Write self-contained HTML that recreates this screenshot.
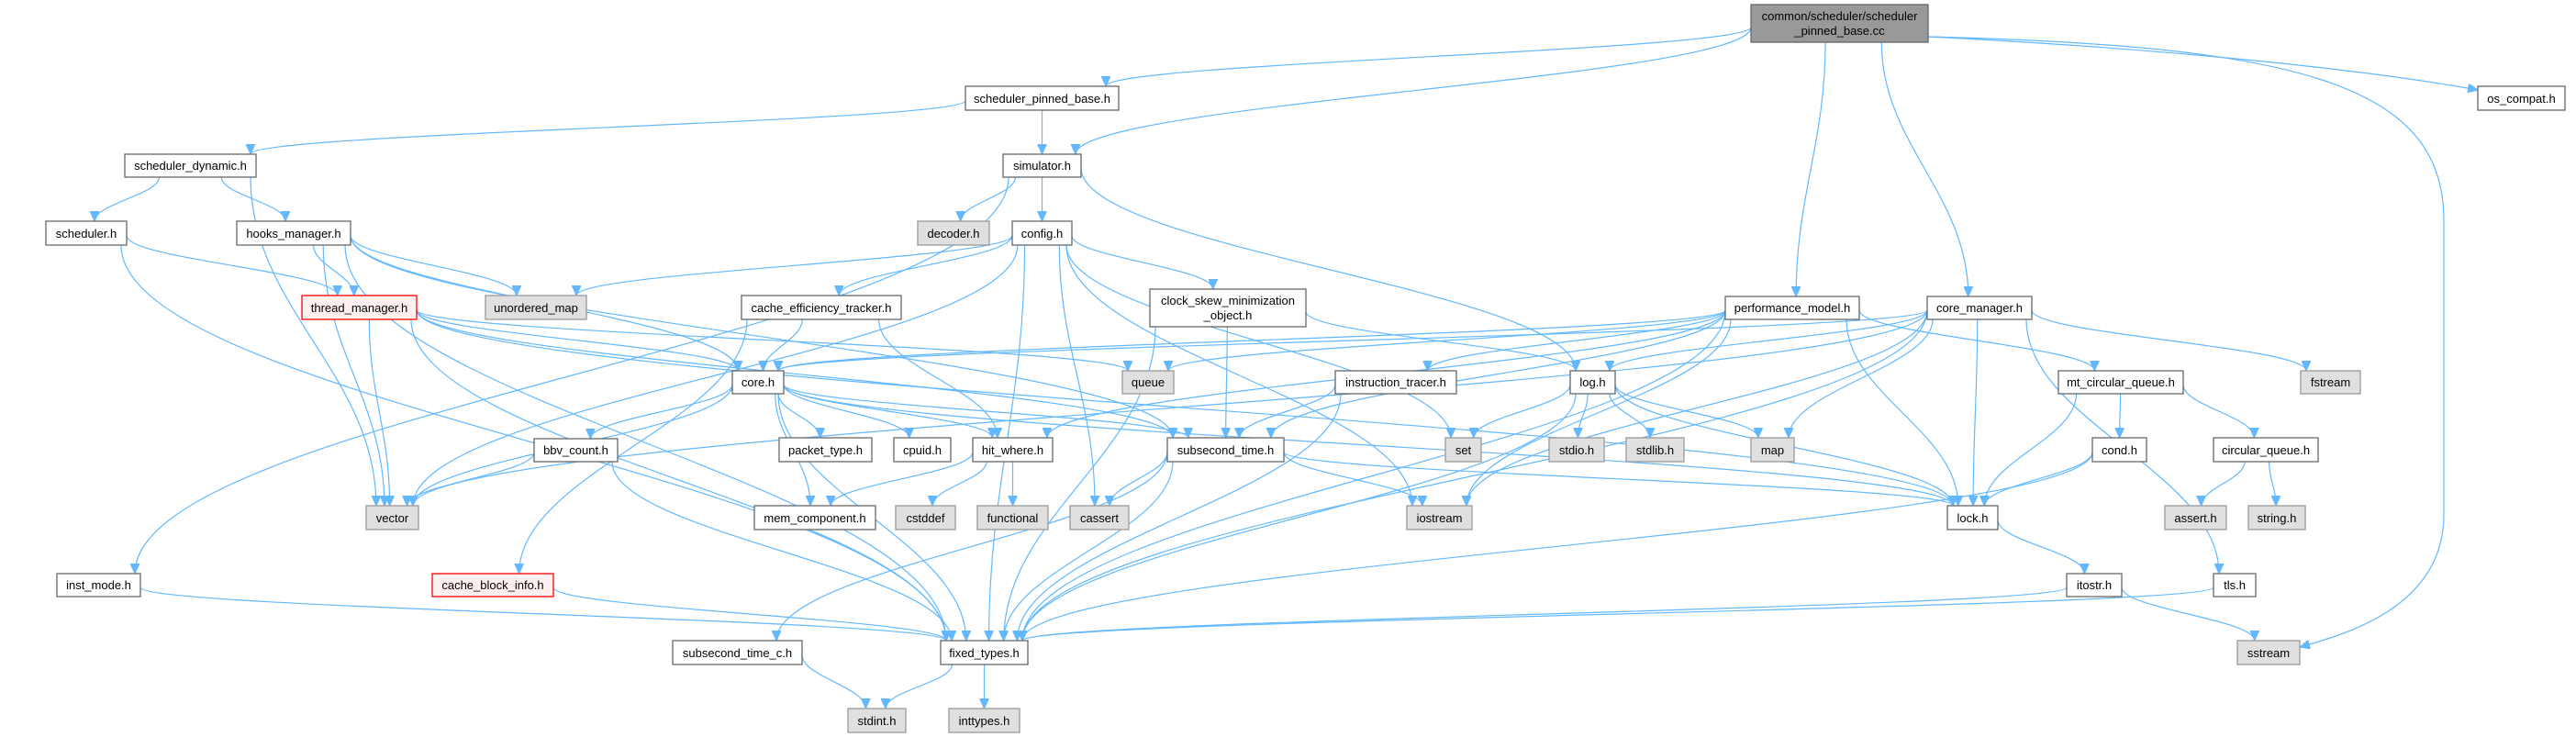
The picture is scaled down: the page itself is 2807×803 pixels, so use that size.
<!DOCTYPE html>
<html><head><meta charset="utf-8">
<style>
html,body{margin:0;padding:0;background:#fff;}
svg{display:block;}
text{font-family:"Liberation Sans",Arial,sans-serif;font-size:13px;fill:#000;}
.n rect{fill:#fff;stroke:#666;stroke-width:1.3;}
.g rect{fill:#e0e0e0;stroke:#999;stroke-width:1.3;}
.r rect{fill:#fff0f0;stroke:#f00;stroke-width:1.3;}
.root rect{fill:#999;stroke:#666;stroke-width:1.3;}
.e{fill:none;stroke:#63b8ff;stroke-width:1.2;}
</style></head>
<body>
<svg id="s" width="2807" height="803" viewBox="0 0 2807 803" xmlns="http://www.w3.org/2000/svg">
<defs><marker id="a" markerUnits="userSpaceOnUse" markerWidth="12" markerHeight="10" refX="11" refY="5" orient="auto"><path d="M0,0 L11,5 L0,10 z" fill="#63b8ff" stroke="#63b8ff"/></marker></defs>
<g id="edges"></g>
<g id="nodes">
<g class="root" id="root"><rect x="1908" y="5" width="193" height="41"/><text x="2004.5" y="22" text-anchor="middle">common/scheduler/scheduler</text><text x="2004.5" y="38" text-anchor="middle">_pinned_base.cc</text></g>
<g class="n" id="spb"><rect x="1052" y="94" width="167" height="26"/><text x="1135.5" y="112" text-anchor="middle">scheduler_pinned_base.h</text></g>
<g class="n" id="sdyn"><rect x="136" y="168" width="143" height="25"/><text x="207.5" y="185" text-anchor="middle">scheduler_dynamic.h</text></g>
<g class="n" id="sim"><rect x="1093" y="168" width="85" height="25"/><text x="1135.5" y="185" text-anchor="middle">simulator.h</text></g>
<g class="n" id="os"><rect x="2700" y="94" width="95" height="26"/><text x="2747.5" y="112" text-anchor="middle">os_compat.h</text></g>
<g class="n" id="sched"><rect x="50" y="241" width="88" height="26"/><text x="94" y="259" text-anchor="middle">scheduler.h</text></g>
<g class="n" id="hooks"><rect x="258" y="241" width="124" height="26"/><text x="320" y="259" text-anchor="middle">hooks_manager.h</text></g>
<g class="g" id="decoder"><rect x="1000" y="241" width="78" height="26"/><text x="1039" y="259" text-anchor="middle">decoder.h</text></g>
<g class="n" id="config"><rect x="1103" y="241" width="65" height="26"/><text x="1135.5" y="259" text-anchor="middle">config.h</text></g>
<g class="r" id="thread"><rect x="329" y="322" width="125" height="26"/><text x="391.5" y="340" text-anchor="middle">thread_manager.h</text></g>
<g class="g" id="umap"><rect x="529" y="322" width="110" height="26"/><text x="584" y="340" text-anchor="middle">unordered_map</text></g>
<g class="n" id="cet"><rect x="808" y="322" width="174" height="26"/><text x="895" y="340" text-anchor="middle">cache_efficiency_tracker.h</text></g>
<g class="n" id="csmo"><rect x="1253" y="315" width="170" height="41"/><text x="1338" y="332" text-anchor="middle">clock_skew_minimization</text><text x="1338" y="348" text-anchor="middle">_object.h</text></g>
<g class="n" id="perf"><rect x="1880" y="323" width="146" height="25"/><text x="1953" y="340" text-anchor="middle">performance_model.h</text></g>
<g class="n" id="cmgr"><rect x="2100" y="323" width="114" height="25"/><text x="2157" y="340" text-anchor="middle">core_manager.h</text></g>
<g class="n" id="core"><rect x="798" y="404" width="56" height="25"/><text x="826" y="421" text-anchor="middle">core.h</text></g>
<g class="g" id="queue"><rect x="1223" y="404" width="56" height="25"/><text x="1251" y="421" text-anchor="middle">queue</text></g>
<g class="n" id="itr"><rect x="1455" y="404" width="132" height="25"/><text x="1521" y="421" text-anchor="middle">instruction_tracer.h</text></g>
<g class="n" id="log"><rect x="1711" y="404" width="49" height="25"/><text x="1735.5" y="421" text-anchor="middle">log.h</text></g>
<g class="n" id="mtq"><rect x="2243" y="404" width="136" height="25"/><text x="2311" y="421" text-anchor="middle">mt_circular_queue.h</text></g>
<g class="g" id="fstream"><rect x="2507" y="404" width="65" height="25"/><text x="2539.5" y="421" text-anchor="middle">fstream</text></g>
<g class="n" id="bbv"><rect x="582" y="478" width="91" height="25"/><text x="627.5" y="495" text-anchor="middle">bbv_count.h</text></g>
<g class="n" id="packet"><rect x="849" y="477" width="101" height="26"/><text x="899.5" y="495" text-anchor="middle">packet_type.h</text></g>
<g class="n" id="cpuid"><rect x="974" y="477" width="62" height="26"/><text x="1005" y="495" text-anchor="middle">cpuid.h</text></g>
<g class="n" id="hit"><rect x="1060" y="477" width="87" height="26"/><text x="1103.5" y="495" text-anchor="middle">hit_where.h</text></g>
<g class="n" id="sub"><rect x="1272" y="477" width="127" height="26"/><text x="1335.5" y="495" text-anchor="middle">subsecond_time.h</text></g>
<g class="g" id="set"><rect x="1575" y="477" width="39" height="26"/><text x="1594.5" y="495" text-anchor="middle">set</text></g>
<g class="g" id="stdio"><rect x="1688" y="477" width="60" height="26"/><text x="1718" y="495" text-anchor="middle">stdio.h</text></g>
<g class="g" id="stdlib"><rect x="1772" y="477" width="63" height="26"/><text x="1803.5" y="495" text-anchor="middle">stdlib.h</text></g>
<g class="g" id="map"><rect x="1908" y="477" width="47" height="26"/><text x="1931.5" y="495" text-anchor="middle">map</text></g>
<g class="n" id="cond"><rect x="2280" y="477" width="59" height="26"/><text x="2309.5" y="495" text-anchor="middle">cond.h</text></g>
<g class="n" id="cq"><rect x="2412" y="477" width="114" height="26"/><text x="2469" y="495" text-anchor="middle">circular_queue.h</text></g>
<g class="g" id="vector"><rect x="399" y="551" width="57" height="26"/><text x="427.5" y="569" text-anchor="middle">vector</text></g>
<g class="n" id="mem"><rect x="822" y="551" width="132" height="26"/><text x="888" y="569" text-anchor="middle">mem_component.h</text></g>
<g class="g" id="cstddef"><rect x="976" y="551" width="65" height="26"/><text x="1008.5" y="569" text-anchor="middle">cstddef</text></g>
<g class="g" id="functional"><rect x="1065" y="551" width="77" height="26"/><text x="1103.5" y="569" text-anchor="middle">functional</text></g>
<g class="g" id="cassert"><rect x="1166" y="551" width="64" height="26"/><text x="1198" y="569" text-anchor="middle">cassert</text></g>
<g class="g" id="iostream"><rect x="1533" y="551" width="71" height="26"/><text x="1568.5" y="569" text-anchor="middle">iostream</text></g>
<g class="n" id="lock"><rect x="2122" y="551" width="55" height="26"/><text x="2149.5" y="569" text-anchor="middle">lock.h</text></g>
<g class="g" id="asserth"><rect x="2359" y="551" width="67" height="26"/><text x="2392.5" y="569" text-anchor="middle">assert.h</text></g>
<g class="g" id="stringh"><rect x="2450" y="551" width="62" height="26"/><text x="2481" y="569" text-anchor="middle">string.h</text></g>
<g class="n" id="inst"><rect x="62" y="625" width="91" height="25"/><text x="107.5" y="642" text-anchor="middle">inst_mode.h</text></g>
<g class="r" id="cbi"><rect x="471" y="625" width="132" height="25"/><text x="537" y="642" text-anchor="middle">cache_block_info.h</text></g>
<g class="n" id="itostr"><rect x="2252" y="625" width="60" height="25"/><text x="2282" y="642" text-anchor="middle">itostr.h</text></g>
<g class="n" id="tls"><rect x="2412" y="625" width="46" height="25"/><text x="2435" y="642" text-anchor="middle">tls.h</text></g>
<g class="n" id="subc"><rect x="733" y="698" width="141" height="26"/><text x="803.5" y="716" text-anchor="middle">subsecond_time_c.h</text></g>
<g class="n" id="fixed"><rect x="1025" y="698" width="95" height="26"/><text x="1072.5" y="716" text-anchor="middle">fixed_types.h</text></g>
<g class="g" id="sstream"><rect x="2438" y="698" width="68" height="26"/><text x="2472" y="716" text-anchor="middle">sstream</text></g>
<g class="g" id="stdint"><rect x="924" y="772" width="63" height="26"/><text x="955.5" y="790" text-anchor="middle">stdint.h</text></g>
<g class="g" id="inttypes"><rect x="1034" y="772" width="77" height="26"/><text x="1072.5" y="790" text-anchor="middle">inttypes.h</text></g>
</g>
</svg>
<script>
(function(){
var E="root>spb root>sim root>perf root>cmgr root>os root>sstream spb>sdyn spb>sim sdyn>sched sdyn>hooks sdyn>vector sim>decoder sim>config sim>inst sim>log sched>thread sched>fixed hooks>thread hooks>umap hooks>vector hooks>fixed hooks>core hooks>sub thread>core thread>vector thread>fixed thread>queue thread>sub thread>lock config>umap config>vector config>fixed config>cet config>csmo config>cassert config>set config>iostream cet>core cet>hit cet>cbi csmo>sub csmo>fixed csmo>log core>packet core>cpuid core>hit core>sub core>mem core>bbv core>vector core>fixed core>lock bbv>vector bbv>fixed hit>mem hit>cstddef hit>functional sub>cassert sub>fixed sub>subc sub>iostream sub>lock subc>stdint fixed>stdint fixed>inttypes inst>fixed cbi>fixed perf>core perf>queue perf>sub perf>itr perf>mtq perf>lock perf>iostream perf>fixed perf>hit itr>sub itr>fixed log>set log>stdio log>stdlib log>map log>lock log>fixed cmgr>log cmgr>map cmgr>fstream cmgr>lock cmgr>tls cmgr>fixed cmgr>iostream cmgr>vector cmgr>core mtq>cond mtq>cq mtq>lock cond>lock cond>fixed cq>asserth cq>stringh lock>itostr itostr>fixed itostr>sstream tls>fixed".split(" ");
function box(id){var r=document.querySelector("#"+id+" rect");return {x:+r.getAttribute("x"),y:+r.getAttribute("y"),w:+r.getAttribute("width"),h:+r.getAttribute("height")};}
function cl(v,a,b){return Math.max(a,Math.min(b,v));}
var g=document.getElementById("edges"),ns="http://www.w3.org/2000/svg";
E.forEach(function(e){var p=e.split(">"),s=box(p[0]),t=box(p[1]);
var scx=s.x+s.w/2,tcx=t.x+t.w/2,d;
var sy=s.y+s.h,ey=t.y;
var sx=cl(scx+(tcx-scx)*0.3,s.x+6,s.x+s.w-6);
var ex=cl(tcx+(scx-tcx)*0.08,t.x+6,t.x+t.w-6);
if(Math.abs(tcx-scx)>Math.abs(ey-sy)*2.5){
 // mostly horizontal: leave from side
 if(tcx>scx){sx=s.x+s.w;}else{sx=s.x;}
 sy=s.y+s.h*0.6;
}
if(p[0]=="root"&&p[1]=="sstream"){d="M2101,40 C2500,50 2663,90 2663,240 L2663,560 C2663,660 2560,690 2506,705";}
else if(p[0]=="root"&&p[1]=="os"){d="M2101,40 C2400,55 2600,80 2700,98";}
else{var my=(sy+ey)/2;d="M"+sx+","+sy+" C"+sx+","+(sy+(ey-sy)*0.4)+" "+ex+","+(ey-(ey-sy)*0.4)+" "+ex+","+ey;}
var el=document.createElementNS(ns,"path");el.setAttribute("d",d);el.setAttribute("class","e");el.setAttribute("marker-end","url(#a)");g.appendChild(el);});
})();
</script>
</body></html>
